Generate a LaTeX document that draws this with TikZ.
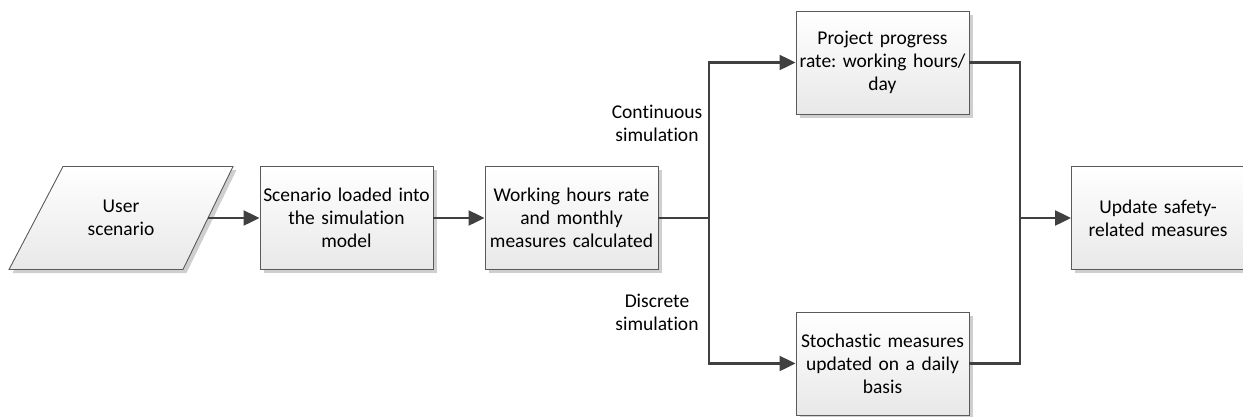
\documentclass[tikz,border=0pt]{standalone}
\usepackage{fontspec}
\setmainfont{Carlito}[Ligatures=NoCommon]
\usetikzlibrary{arrows.meta,shadows}
\definecolor{edgegray}{HTML}{5A5A5A}
\definecolor{linegray}{HTML}{404040}
\definecolor{shadegray}{HTML}{CFCFCF}
\tikzset{
  shapefill/.style={draw=edgegray, line width=0.9pt, top color=white, bottom color=black!9,
    drop shadow={shadow xshift=3.5pt, shadow yshift=-3.5pt, fill=shadegray, opacity=1}},
  txt/.style={align=center, font=\fontsize{19.5}{23}\selectfont},
  stepbox/.style={shapefill, txt, rectangle, minimum width=173pt, minimum height=103pt,
    text width=169pt, inner sep=2pt},
  flow/.style={draw=linegray, line width=2.2pt, line join=miter},
  arrowflow/.style={flow, -{Triangle[length=16pt,width=15pt]}}
}
\begin{document}
\frenchspacing
\begin{tikzpicture}[x=1pt,y=-1pt]
\useasboundingbox (0,0) rectangle (1243,416);
% input parallelogram, with its text node on top
\coordinate (userc) at (121,218);
\path[shapefill] ([shift={(-58pt,51.5pt)}]userc) -- ([shift={(112pt,51.5pt)}]userc)
  -- ([shift={(62pt,-51.5pt)}]userc) -- ([shift={(-112pt,-51.5pt)}]userc) -- cycle;
\node[txt, minimum width=174pt, minimum height=103pt, inner sep=0pt] (user) at (userc) {User\\scenario};
% process boxes
\node[stepbox] (load) at (346.5,218) {Scenario loaded into\\the simulation\\model};
\node[stepbox] (calc) at (571.5,218) {Working hours rate\\and monthly\\measures calculated};
\node[stepbox] (rate) at (882.5,62.5) {Project progress\\rate: working hours/\\day};
\node[stepbox] (stoch) at (882.5,363.5) {Stochastic measures\\updated on a daily\\basis};
\node[stepbox, minimum width=170pt] (safety) at (1158,218) {Update safety-\\related measures};
% branch labels
\node[txt] (cont) at (657,123.5) {Continuous\\simulation};
\node[txt] (disc) at (657,312.5) {Discrete\\simulation};
% junction points
\coordinate (split) at (709,218);
\coordinate (merge) at (1020,218);
% connectors
\draw[arrowflow] (user.east) -- (load.west);
\draw[arrowflow] (load.east) -- (calc.west);
\draw[flow] (calc.east) -- (split);
\draw[arrowflow] (split) |- (rate.west);
\draw[arrowflow] (split) |- (stoch.west);
\draw[flow] (rate.east) -| (merge);
\draw[flow] (stoch.east) -| (merge);
\draw[arrowflow] (merge) -- (safety.west);
\end{tikzpicture}
\end{document}
